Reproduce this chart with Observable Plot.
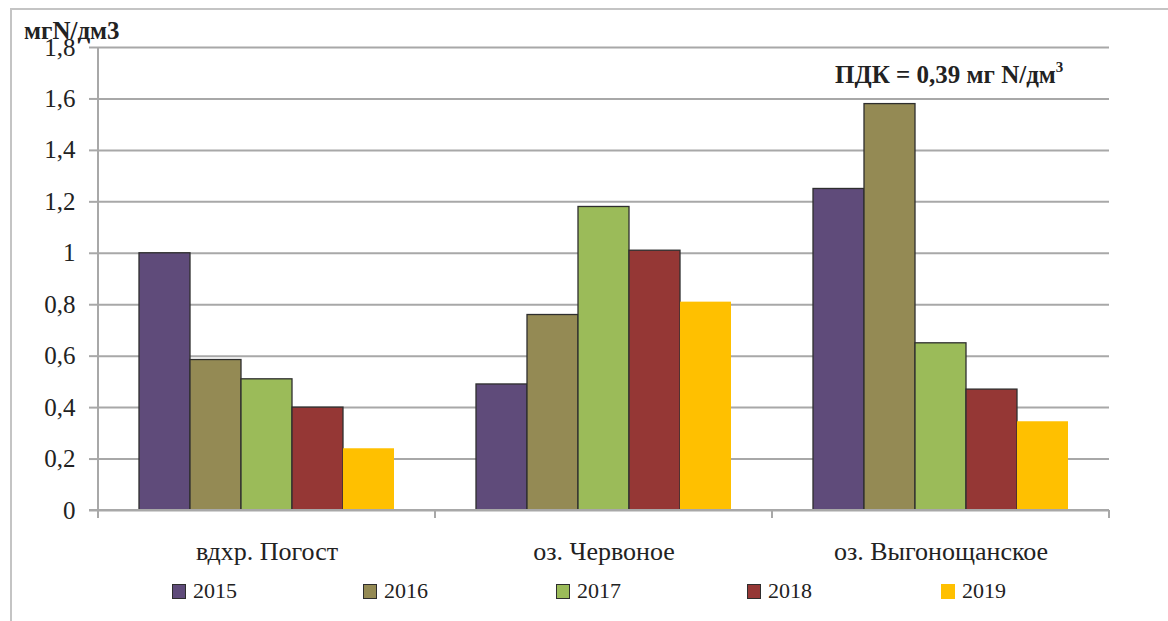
<!DOCTYPE html>
<html>
<head>
<meta charset="utf-8">
<script src="https://cdn.jsdelivr.net/npm/d3@7"></script>
<script src="https://cdn.jsdelivr.net/npm/@observablehq/plot@0.6"></script>
<style>
  html, body { margin: 0; padding: 0; background: #fff; }
  #chart { position: relative; width: 1168px; height: 621px; overflow: hidden;
           font-family: "Liberation Serif", "DejaVu Serif", serif; color: #222; }
  #chart svg { position: absolute; left: 0; top: 0; }
  .edge-top { position: absolute; left: 10px; right: 0; top: 8px; height: 2px; background: #c4c4c4; }
  .edge-left { position: absolute; left: 10px; top: 8px; bottom: 0; width: 2px; background: #c4c4c4; }
  .unit { position: absolute; left: 24px; top: 16px; font-weight: bold; font-size: 25px; z-index: 2; line-height: 30px; }
  .note { position: absolute; left: 835px; top: 60px; font-weight: bold; font-size: 25px; white-space: nowrap; line-height: 30px; }
  .note sup { font-size: 15px; vertical-align: 11px; line-height: 0; }
  .legend-item { position: absolute; top: 578px; font-size: 22px; display: flex; align-items: center; white-space: nowrap; }
  .legend-item .sw { width: 14px; height: 15px; margin-right: 7px; box-sizing: border-box; }
</style>
</head>
<body>
<div id="chart">
  <div class="edge-top"></div>
  <div class="edge-left"></div>
</div>
<script>
// Nitrogen concentration by water body and year
const sites = ["вдхр. Погост", "оз. Червоное", "оз. Выгонощанское"];
const years = ["2015", "2016", "2017", "2018", "2019"];
const pogost = [1.0, 0.585, 0.51, 0.40, 0.24];
const chervonoe = [0.49, 0.76, 1.18, 1.01, 0.81];
const vygonoschanskoe = [1.25, 1.58, 0.65, 0.47, 0.345];
const yearColors = ["#5f4b7a", "#948a54", "#9bbb59", "#953735", "#ffc000"];
const yTicks = [0, 0.2, 0.4, 0.6, 0.8, 1.0, 1.2, 1.4, 1.6, 1.8];
const unitLabel = "мгN/дм3";
const limitLabel = "ПДК = 0,39 мг N/дм";

const seriesBySite = [pogost, chervonoe, vygonoschanskoe];
const rows = sites.flatMap((site, i) =>
  years.map((year, j) => ({site, year, value: seriesBySite[i][j]}))
);

const commaFormat = d => String(+d.toFixed(1)).replace(".", ",");
const barStroke = "#2e2e2e";
const gridColor = "#a8a8a8";

const plot = Plot.plot({
  width: 1168,
  height: 568,
  marginLeft: 97,
  marginRight: 58,
  marginTop: 47,
  marginBottom: 58,
  style: {fontFamily: "Liberation Serif, DejaVu Serif, serif", fontSize: "25px", color: "#222", background: "transparent"},
  fx: {domain: sites, padding: 0, label: null},
  x: {domain: years, paddingInner: 0, paddingOuter: 0.77, axis: null},
  y: {domain: [0, 1.8], ticks: yTicks, label: null},
  color: {domain: years, range: yearColors},
  marks: [
    Plot.gridY(yTicks, {stroke: gridColor, strokeOpacity: 1, strokeWidth: 2}),
    Plot.axisY(yTicks, {tickSize: 9, tickPadding: 14, tickFormat: commaFormat, stroke: gridColor, strokeWidth: 2, fill: "#222", fontSize: 25, label: null}),
    Plot.axisFx({anchor: "bottom", tickSize: 0, tickPadding: 31, label: null, fill: "#222", fontSize: 26}),
    Plot.barY(rows, {filter: d => d.year !== "2019", fx: "site", x: "year", y: "value", fill: "year", stroke: barStroke, strokeWidth: 1.3}),
    Plot.barY(rows, {filter: d => d.year === "2019", fx: "site", x: "year", y: "value", fill: "year"})
  ]
});

const chart = document.getElementById("chart");
chart.appendChild(plot);

// Axis lines and category separator ticks, placed through the plot's own scales
const fx = plot.scale("fx");
const y = plot.scale("y");
const svg = d3.select(plot);
const y0 = y.apply(0);
const yTop = y.apply(1.8);
const leftX = fx.apply(sites[0]);
const bounds = sites.map(s => fx.apply(s)).concat([fx.apply(sites[sites.length - 1]) + fx.bandwidth]);
const deco = svg.append("g").attr("stroke", gridColor).attr("stroke-width", 2).attr("fill", "none");
deco.append("line").attr("x1", leftX).attr("x2", leftX).attr("y1", yTop).attr("y2", y0);
deco.append("line").attr("x1", leftX - 9).attr("x2", bounds[bounds.length - 1]).attr("y1", y0).attr("y2", y0);
bounds.forEach(bx => deco.append("line").attr("x1", bx).attr("x2", bx).attr("y1", y0).attr("y2", y0 + 8));

// Unit label
const unit = document.createElement("div");
unit.className = "unit";
unit.textContent = unitLabel;
chart.appendChild(unit);

// Limit annotation
const note = document.createElement("div");
note.className = "note";
note.innerHTML = limitLabel + "<sup>3</sup>";
chart.appendChild(note);

// Legend
const legendLeft = [172, 363, 556, 747, 941];
years.forEach((yr, i) => {
  const item = document.createElement("div");
  item.className = "legend-item";
  item.style.left = legendLeft[i] + "px";
  const sw = document.createElement("div");
  sw.className = "sw";
  sw.style.background = yearColors[i];
  if (i < 4) sw.style.border = "1.5px solid " + barStroke;
  const label = document.createElement("span");
  label.textContent = yr;
  item.appendChild(sw);
  item.appendChild(label);
  chart.appendChild(item);
});
</script>
</body>
</html>
